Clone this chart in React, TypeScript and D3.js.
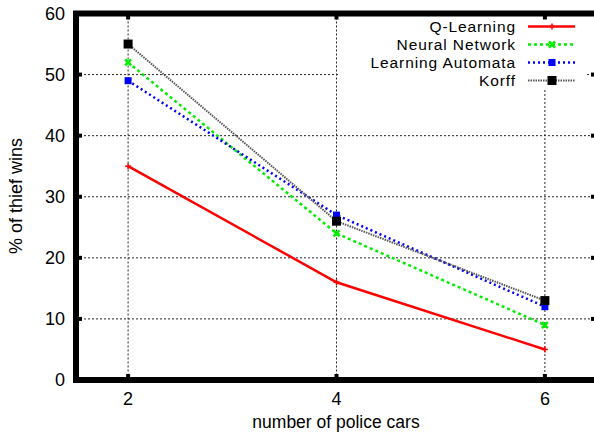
import React from "react";
import * as d3 from "d3";

const xValues = [2, 4, 6];
const qLearning = [35, 16, 5];
const neuralNetwork = [52, 24, 9];
const learningAutomata = [49, 27, 12];
const korff = [55, 26, 13];
const seriesNames = ["Q-Learning", "Neural Network", "Learning Automata", "Korff"];
const yTicks = [0, 10, 20, 30, 40, 50, 60];
const xTicks = [2, 4, 6];

const W = 594, H = 434;
const left = 76, top = 13.5, right = 597, bottom = 380;

export default function App() {
  const x = d3.scaleLinear().domain([1.5, 6.5]).range([left, right]);
  const y = d3.scaleLinear().domain([0, 60]).range([bottom, top]);
  const line = d3.line<number>().x((_, i) => x(xValues[i])).y((d) => y(d));
  const font = "'Liberation Sans', Arial, sans-serif";

  const styles = [
    { data: qLearning, color: "#ff0000", width: 2.5, dash: "", marker: "plus" },
    { data: neuralNetwork, color: "#00ee00", width: 2.5, dash: "3,3", marker: "x" },
    { data: learningAutomata, color: "#0000ff", width: 2.5, dash: "2,3", marker: "sq" },
    { data: korff, color: "#555555", width: 2, dash: "1.5,1", marker: "bigsq" },
  ];

  const marker = (kind: string, cx: number, cy: number, color: string, key: string) => {
    if (kind === "plus")
      return (
        <g key={key} stroke={color} strokeWidth={1.5}>
          <line x1={cx - 3} x2={cx + 3} y1={cy} y2={cy} />
          <line x1={cx} x2={cx} y1={cy - 3} y2={cy + 3} />
        </g>
      );
    if (kind === "x")
      return (
        <g key={key} stroke={color} strokeWidth={2.5}>
          <line x1={cx - 3} x2={cx + 3} y1={cy - 3} y2={cy + 3} />
          <line x1={cx - 3} x2={cx + 3} y1={cy + 3} y2={cy - 3} />
        </g>
      );
    if (kind === "sq")
      return <rect key={key} x={cx - 3.5} y={cy - 3.5} width={7} height={7} fill={color} />;
    return <rect key={key} x={cx - 4.5} y={cy - 4.5} width={9} height={9} fill="#000" />;
  };

  const legendX = 516;
  const legendY = [26.5, 44.5, 62.5, 80.5];

  return (
    <svg width={W} height={H} style={{ position: "absolute", left: 0, top: 0, background: "#fff" }}>
      {/* grid */}
      <g stroke="#000" strokeWidth={1} strokeDasharray="2,2" opacity={0.85}>
        {yTicks.slice(1, -1).map((t) => (
          <g key={t}>
            {t === 50 ? (
              <>
                <line x1={left} x2={340} y1={y(t)} y2={y(t)} />
                <line x1={587} x2={right} y1={y(t)} y2={y(t)} />
              </>
            ) : (
              <line x1={left} x2={right} y1={y(t)} y2={y(t)} />
            )}
          </g>
        ))}
        {xTicks.map((t) => (
          <line key={t} x1={x(t)} x2={x(t)} y1={t === 6 ? 90 : top} y2={bottom} />
        ))}
      </g>

      {/* series */}
      {styles.map((s, i) => (
        <g key={i}>
          <path d={line(s.data) || ""} fill="none" stroke={s.color} strokeWidth={s.width} strokeDasharray={s.dash} />
          {s.data.map((v, j) => marker(s.marker, x(xValues[j]), y(v), s.color, `${i}-${j}`))}
        </g>
      ))}

      {/* frame */}
      <rect x={left} y={top} width={603 - left} height={bottom - top} fill="none" stroke="#000" strokeWidth={6} />
      {/* ticks */}
      <g fill="#000">
        {yTicks.map((t) => (
          <g key={t}>
            <rect x={left} y={y(t) - 2} width={6} height={4} />
            <rect x={right - 6} y={y(t) - 2} width={6} height={4} />
          </g>
        ))}
        {xTicks.map((t) => (
          <g key={t}>
            <rect x={x(t) - 2} y={bottom - 6} width={4} height={6} />
            <rect x={x(t) - 2} y={top} width={4} height={6} />
          </g>
        ))}
      </g>

      {/* tick labels */}
      <g fontFamily={font} fontSize={18} fill="#000">
        {yTicks.map((t) => (
          <text key={t} x={65} y={y(t)} dy="0.36em" textAnchor="end">
            {t}
          </text>
        ))}
        {xTicks.map((t) => (
          <text key={t} x={x(t)} y={405} textAnchor="middle">
            {t}
          </text>
        ))}
      </g>

      {/* axis titles */}
      <text x={336} y={428} textAnchor="middle" fontFamily={font} fontSize={17.5}>
        number of police cars
      </text>
      <text
        transform={`translate(22,196) rotate(-90)`}
        textAnchor="middle"
        fontFamily={font}
        fontSize={18}
      >
        % of thief wins
      </text>

      {/* legend */}
      <g fontFamily={font} fontSize={15.5} letterSpacing={0.9}>
        {styles.map((s, i) => (
          <g key={i}>
            <text x={legendX} y={legendY[i]} dy="0.35em" textAnchor="end">
              {seriesNames[i]}
            </text>
            <line x1={528} x2={575} y1={legendY[i]} y2={legendY[i]} stroke={s.color} strokeWidth={s.width} strokeDasharray={s.dash} />
            {marker(s.marker, 552, legendY[i], s.color, `l${i}`)}
          </g>
        ))}
      </g>
    </svg>
  );
}
